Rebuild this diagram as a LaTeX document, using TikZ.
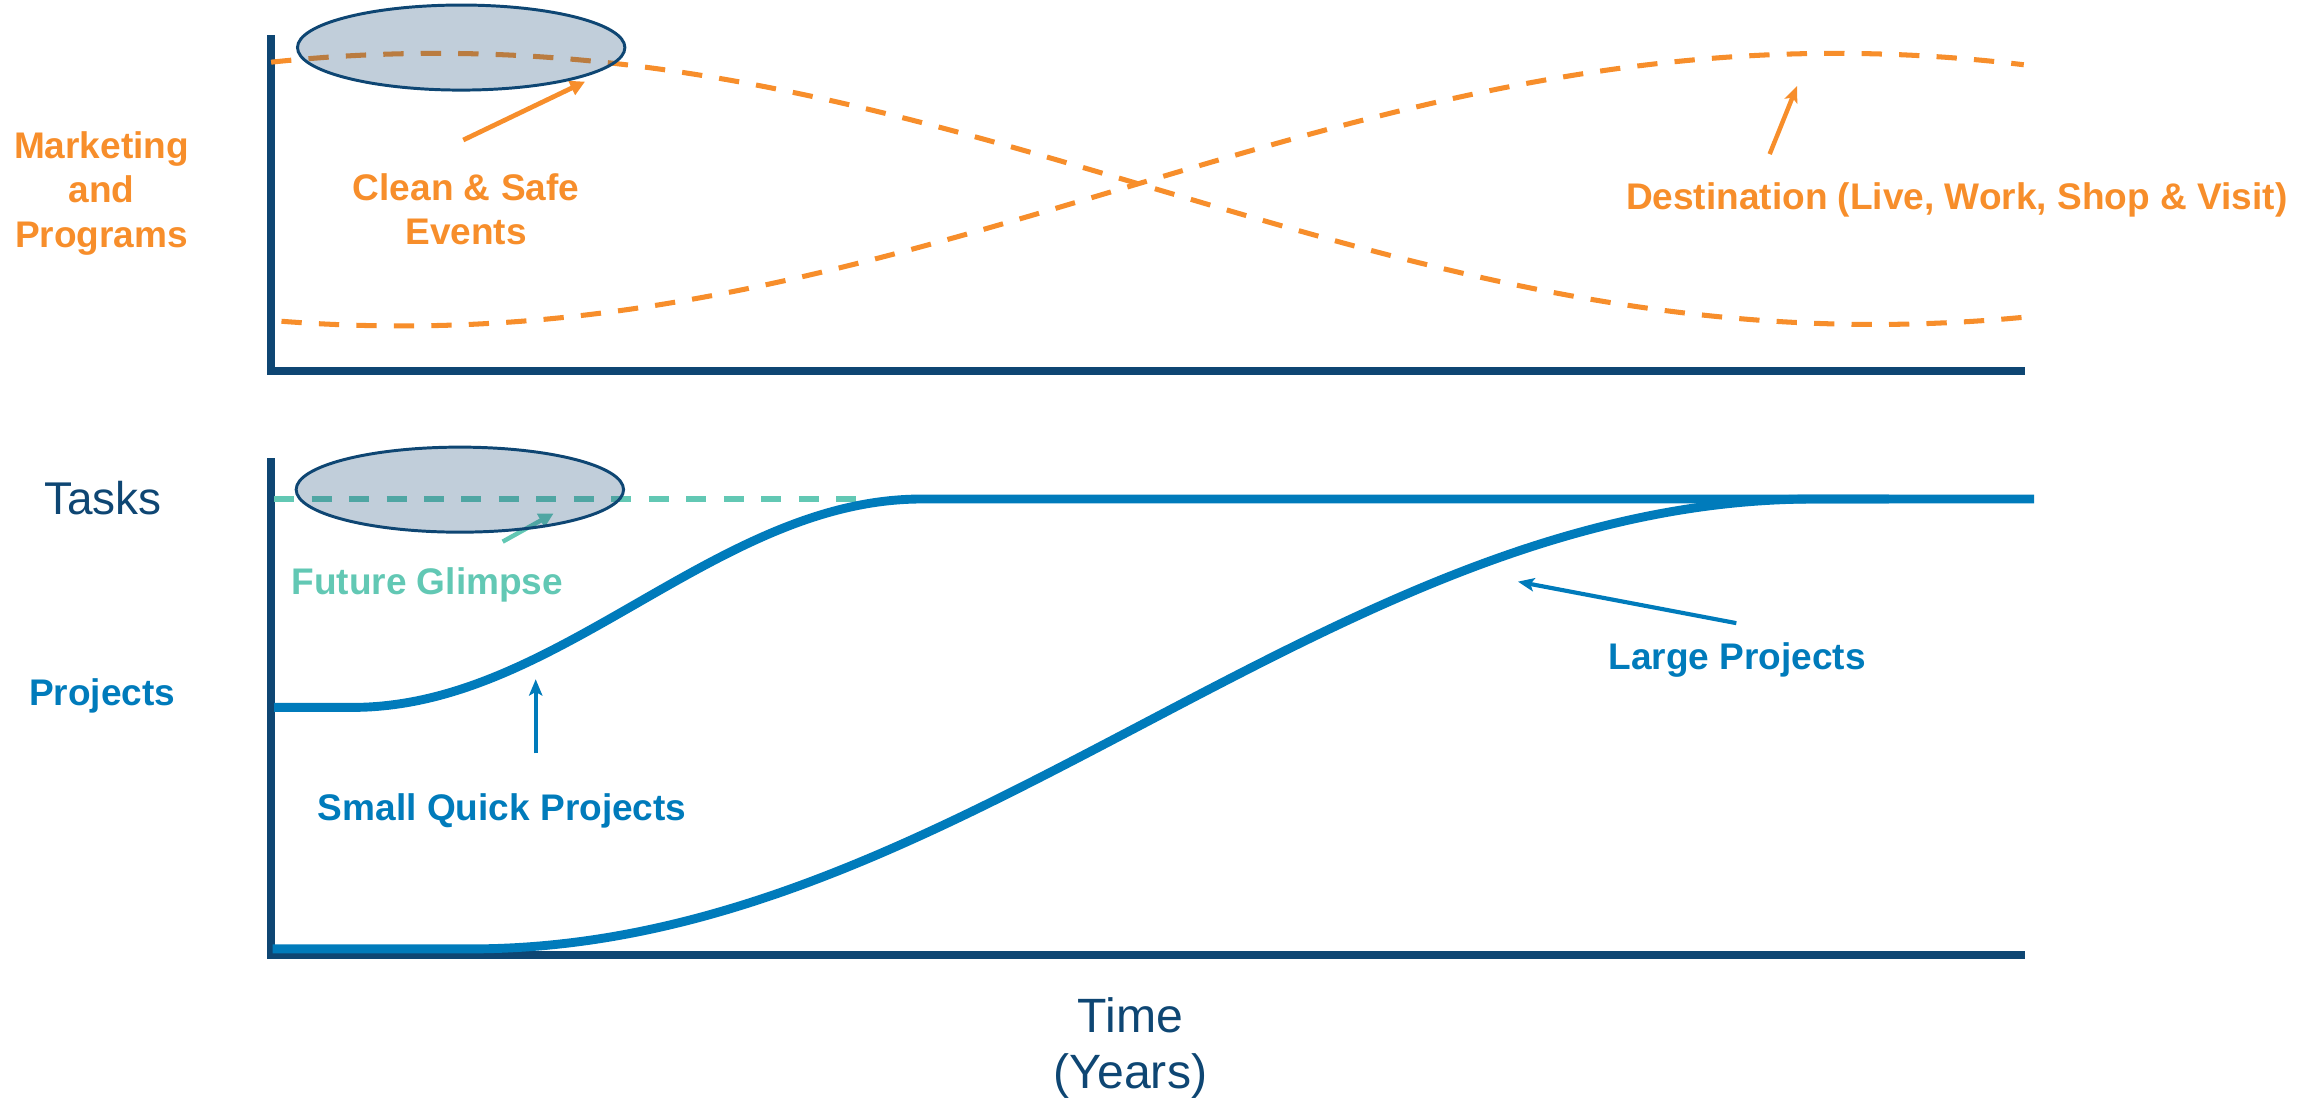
\documentclass[tikz,border=0pt]{standalone}
\usepackage{fontspec}
\setmainfont{Liberation Sans}
\usetikzlibrary{arrows.meta,shapes.geometric}
\definecolor{orng}{RGB}{247,142,43}
\definecolor{pblue}{RGB}{0,123,187}
\definecolor{navy}{RGB}{14,70,115}
\definecolor{teal2}{RGB}{98,200,180}
\definecolor{efill}{RGB}{31,78,121}
\begin{document}
\begin{tikzpicture}[x=1pt,y=-1pt,
  axisline/.style={draw=navy, line width=5.2pt},
  orangedash/.style={draw=orng, line width=3.4pt, dash pattern=on 13.7pt off 11.6pt},
  tealdash/.style={draw=teal2, line width=3.6pt, dash pattern=on 13.5pt off 11.8pt},
  bigcurve/.style={draw=pblue, line width=6pt},
  glimpse/.style={ellipse, draw=navy, line width=2pt, fill=efill, fill opacity=0.28,
    minimum width=221pt, minimum height=57.4pt, inner sep=0pt},
  lbl/.style={font=\fontsize{25}{30}\selectfont\bfseries, inner sep=0pt},
  tri/.style={-{Triangle[length=10pt,width=10pt]}},
  stl/.style={-{Stealth[length=11pt,width=9pt,inset=2.5pt]}}
]
\useasboundingbox (0,0) rectangle (1568,742.5);

% axes
\coordinate (uTop) at (183,23.6);
\coordinate (uOrig) at (183,250.3);
\coordinate (uEnd) at (1367,250.3);
\draw[axisline] (uTop) -- (183,252.9);
\draw[axisline] (180.4,250.3) -- (uEnd);
\coordinate (lTop) at (183,309.4);
\coordinate (lEnd) at (1367,644.7);
\draw[axisline] (lTop) -- (183,647.3);
\draw[axisline] (180.4,644.7) -- (lEnd);

% upper orange curves
\draw[orangedash] plot[domain=183:1366, samples=200] (\x, {127.5-91.5*cos((\x-295)*0.18557)});
\draw[orangedash] plot[domain=190:1366, samples=200] (\x, {128+92*cos((\x-271)*0.18595)});

% arrows upper
\coordinate (csT) at (312.7,94.5);
\coordinate (csH) at (394.9,55.1);
\draw[orng, line width=3.2pt, tri] (csT) -- (csH);
\coordinate (dsT) at (1194.5,104);
\coordinate (dsH) at (1213,58);
\draw[orng, line width=3pt, stl] (dsT) -- (dsH);

% lower: teal dashed
\coordinate (tdA) at (185,336.8);
\coordinate (tdB) at (578,336.8);
\draw[tealdash] (tdA) -- (tdB);
\coordinate (fgT) at (339.3,365.6);
\coordinate (fgH) at (373.7,346.5);
\draw[teal2, line width=3pt, tri] (fgT) -- (fgH);

% blue curves
\coordinate (sqEnd) at (1373,336.8);
\draw[bigcurve] plot[domain=185:625, samples=120] (\x, {336.8+70.35*(1-sin(max(-90,min(90,(\x-430)*0.46753))))}) -- (sqEnd);
\draw[bigcurve] plot[domain=184:1275, samples=200] (\x, {336.8+151.85*(1-sin(max(-90,min(90,(\x-771.5)*0.19824))))});

\coordinate (sqT) at (361.6,508.5);
\coordinate (sqH) at (361.6,458.5);
\draw[pblue, line width=2.5pt, stl] (sqT) -- (sqH);
\coordinate (lpT) at (1172,420.6);
\coordinate (lpH) at (1024.6,392.6);
\draw[pblue, line width=2.8pt, stl] (lpT) -- (lpH);

% ellipses
\node[glimpse] (e1) at (311.3,32.1) {};
\node[glimpse] (e2) at (310.4,330.5) {};

% texts
\node[lbl, text=orng, align=center] (mkt) at (68.5,130.6) {Marketing\\and\\Programs};
\node[lbl, text=orng, align=center] (cse) at (314.6,141.1) {Clean \& Safe\\Events};
\node[lbl, text=orng, anchor=base] (dest) at (1320.7,141.3) {Destination (Live, Work, Shop \& Visit)};
\node[inner sep=0pt, anchor=base, text=navy, font=\fontsize{31}{36}\selectfont] (tasks) at (69.4,347) {Tasks};
\node[lbl, text=pblue, anchor=base] (proj) at (69,475.9) {Projects};
\node[lbl, text=teal2, anchor=base] (fg) at (288.4,401.6) {Future Glimpse};
\node[lbl, text=pblue, anchor=base] (sqp) at (339,553.5) {Small Quick Projects};
\node[lbl, text=pblue, anchor=base] (lp) at (1172.5,451.8) {Large Projects};
\node[inner sep=0pt, align=center, text=navy, font=\fontsize{32.5}{37.5}\selectfont] (time) at (763,707.5) {Time\\(Years)};
\end{tikzpicture}
\end{document}
